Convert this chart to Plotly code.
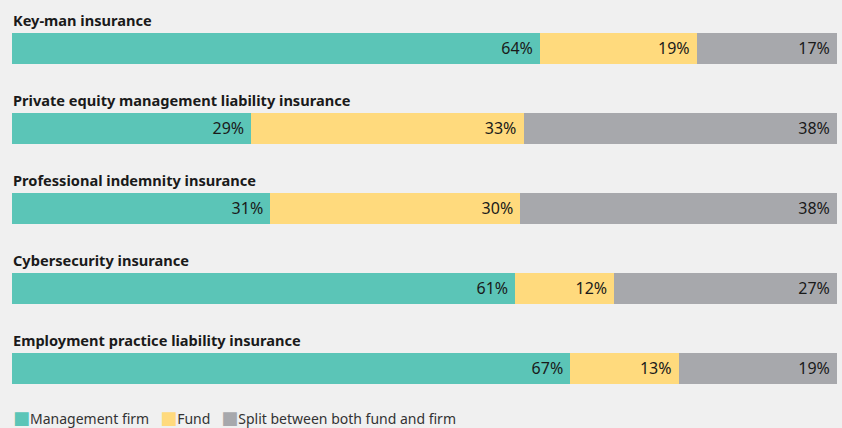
import plotly.graph_objects as go

# Datos
categorias = [
    "Key-man insurance",
    "Private equity management liability insurance",
    "Professional indemnity insurance",
    "Cybersecurity insurance",
    "Employment practice liability insurance",
]
management_firm = [64, 29, 31, 61, 67]
fund = [19, 33, 30, 12, 13]
split_both = [17, 38, 38, 27, 19]

series = [
    ("Management firm", management_firm, "#5BC5B7"),
    ("Fund", fund, "#FFDA7D"),
    ("Split between both fund and firm", split_both, "#A7A8AC"),
]

fuente = "Noto Sans"

fig = go.Figure()

for nombre, valores, color in series:
    fig.add_trace(go.Bar(
        x=valores,
        y=categorias,
        orientation="h",
        name=nombre,
        marker=dict(color=color, line=dict(width=0)),
        text=[f"{v}%\u00a0" for v in valores],
        textposition="inside",
        insidetextanchor="end",
        textfont=dict(family=fuente, size=16, color="#1a1a1a"),
        hoverinfo="skip",
    ))

# Titulos encima de cada barra
for cat in categorias:
    fig.add_annotation(
        x=0, xref="paper", y=cat, yref="y",
        text=f"<b>{cat}</b>",
        showarrow=False,
        xanchor="left", yanchor="middle",
        xshift=-1, yshift=28,
        font=dict(family=fuente, size=14.6, color="#1a1a1a"),
    )

# Leyenda como texto debajo del grafico
partes = []
for nombre, _, color in series:
    partes.append(
        f'<span style="color:{color};font-family:DejaVu Sans;font-size:18px">■</span>{nombre}'
    )
fig.add_annotation(
    x=0, xref="paper", y=0, yref="paper",
    text="\u00a0\u00a0\u00a0".join(partes),
    showarrow=False,
    xanchor="left", yanchor="middle",
    xshift=-1, yshift=-9,
    font=dict(family=fuente, size=14, color="#333333"),
)

fig.update_layout(
    width=842, height=428,
    barmode="stack",
    barnorm="percent",
    bargap=0.6125,
    paper_bgcolor="#F0F0F0",
    plot_bgcolor="#F0F0F0",
    margin=dict(l=12, r=5, t=8, b=20),
    xaxis=dict(range=[0, 100], visible=False, fixedrange=True),
    yaxis=dict(range=[4.5, -0.5], visible=False, fixedrange=True),
    showlegend=False,
)

fig.write_html("out.html", config={"displayModeBar": False},
               post_script="document.body.style.margin='0px';")
